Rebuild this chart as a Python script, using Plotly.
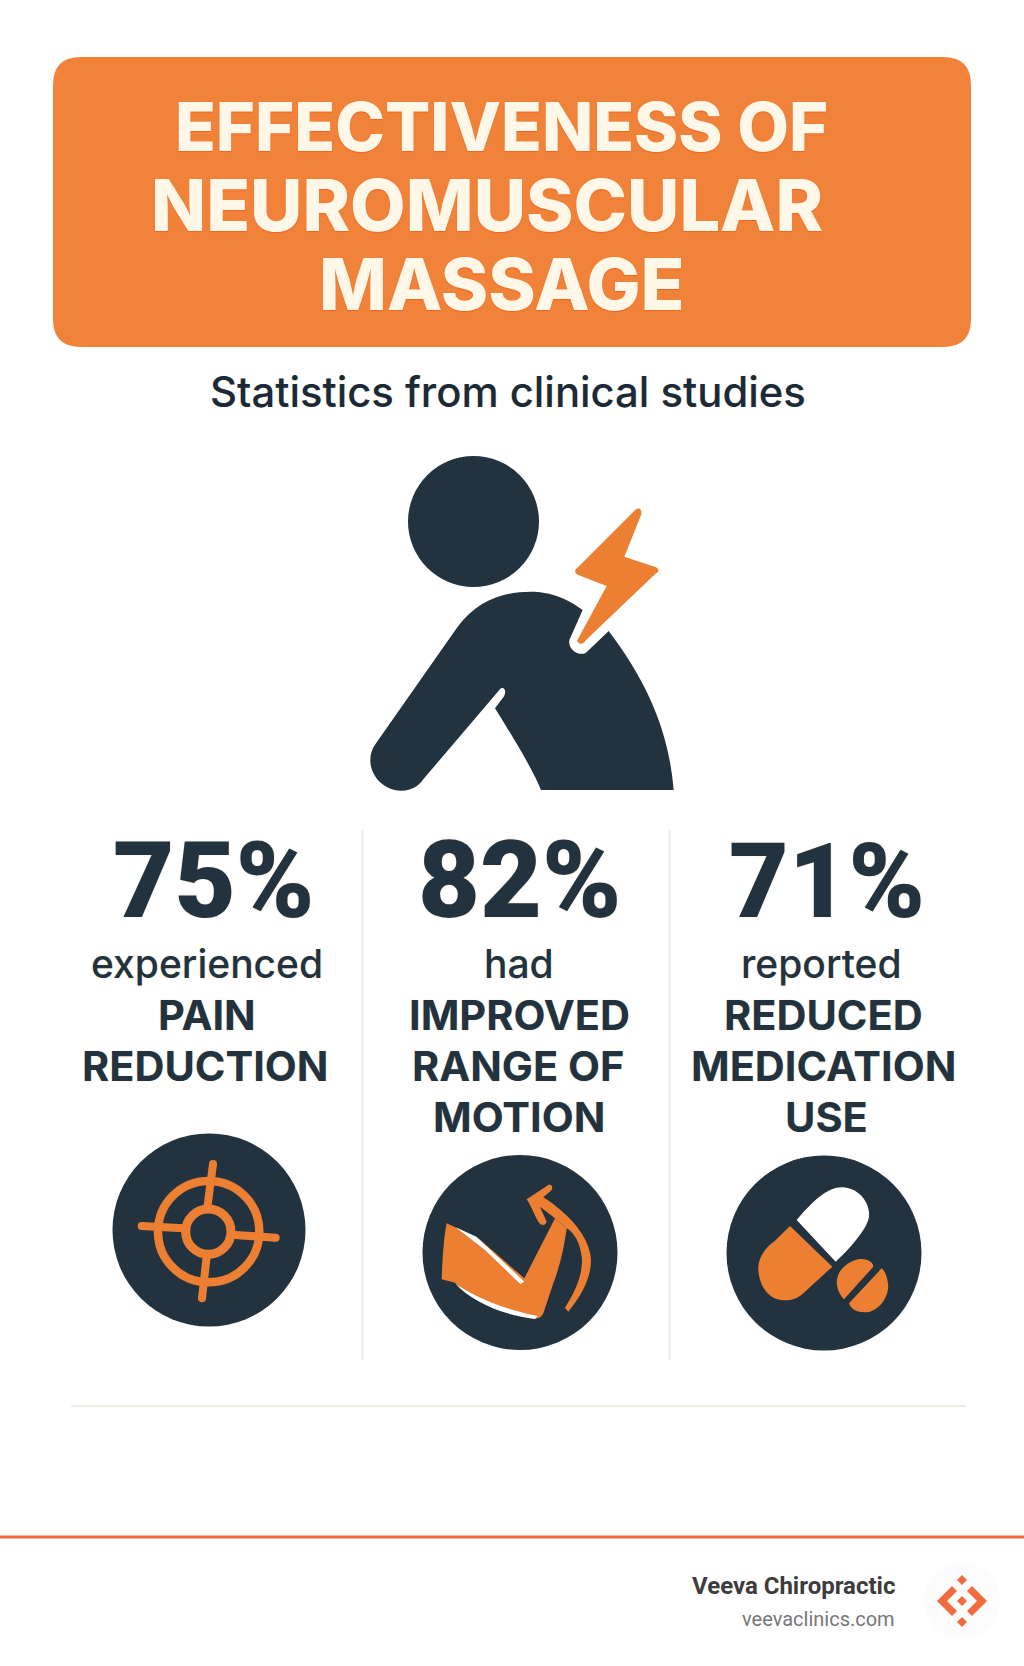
import plotly.graph_objects as go

# Textes et valeurs
TITLE_LINES = ["EFFECTIVENESS OF", "NEUROMUSCULAR", "MASSAGE"]
SUBTITLE = "Statistics from clinical studies"
PERCENTS = [75, 82, 71]
LEAD_WORDS = ["experienced", "had", "reported"]
LABEL_LINES = [
    ["PAIN", "REDUCTION"],
    ["IMPROVED", "RANGE OF", "MOTION"],
    ["REDUCED", "MEDICATION", "USE"],
]
BRAND = "Veeva Chiropractic"
SITE = "veevaclinics.com"

DARK = "#22333F"
ORANGE = "#F0823A"
ICON_ORANGE = "#EC7F32"
CREAM = "#FFF8E8"
RULE = "#F2EDE3"
FOOT_RED = "#F26B3F"
FONT = "Inter"

W, H = 1024, 1666

fig = go.Figure()
shapes = []


def place(path, ox, oy, k=1 / 3):
    """Convertit un chemin relevé sur un zoom 3x en pixels de la page."""
    out = []
    for tok in path.split():
        if tok.isalpha():
            out.append(tok)
        else:
            x, y = tok.split(",")
            out.append(f"{ox + float(x) * k:.2f},{oy + float(y) * k:.2f}")
    return " ".join(out)


def add_path(path, color):
    shapes.append(dict(type="path", path=path, fillcolor=color, line_width=0, layer="above"))


def add_circle(cx, cy, r, fill, line=None, width=0):
    shapes.append(dict(
        type="circle", x0=cx - r, x1=cx + r, y0=cy - r, y1=cy + r,
        fillcolor=fill, line=dict(color=line or fill, width=width), layer="above",
    ))


def add_line(x0, y0, x1, y1, color, width):
    shapes.append(dict(type="line", x0=x0, y0=y0, x1=x1, y1=y1,
                       line=dict(color=color, width=width), layer="above"))


def add_round_line(x0, y0, x1, y1, color, width):
    add_line(x0, y0, x1, y1, color, width)
    add_circle(x0, y0, width / 2, color)
    add_circle(x1, y1, width / 2, color)


def add_text(x, baseline, text, size, weight, color=DARK, anchor="center", shadow="none", family=FONT, descent=0.242):
    fig.add_annotation(
        x=x, y=baseline + descent * size, text=text, showarrow=False,
        xanchor=anchor, yanchor="bottom", borderpad=0,
        font=dict(family=family, size=size, weight=weight, color=color, shadow=shadow),
    )


# Bandeau du titre
x0, x1, y0, y1, r = 53, 971, 57, 347, 28
add_path(
    f"M {x0 + r},{y0} L {x1 - r},{y0} Q {x1},{y0} {x1},{y0 + r} L {x1},{y1 - r} Q {x1},{y1} {x1 - r},{y1} "
    f"L {x0 + r},{y1} Q {x0},{y1} {x0},{y1 - r} L {x0},{y0 + r} Q {x0},{y0} {x0 + r},{y0} Z",
    ORANGE,
)
title_shadow = "0 1px 1px #F0641E"
for line, xc, base, size in zip(TITLE_LINES, [501.5, 487, 502], [152, 232, 311], [67, 72, 72]):
    add_text(xc, base, line, size, 800, CREAM, shadow=title_shadow)
add_text(508, 408, SUBTITLE, 41.8, 500, "#1B2A38", shadow="0 0 2px #F5EBD2")

# Personne et éclair
add_circle(473.5, 521.5, 65.5, DARK)
ox, oy = 341, 430
add_path(place(
    "M 998,1080 C 985,920 930,770 803,603 L 735,668 C 715,680 680,660 685,630 L 725,540 "
    "C 660,490 600,485 570,485 C 490,485 410,510 350,590 L 105,940 C 60,1000 110,1082 180,1082 "
    "C 215,1082 235,1065 245,1050 L 475,780 C 485,765 500,780 488,800 L 462,835 "
    "C 540,960 580,1030 600,1080 Z", ox, oy), DARK)
add_path(place(
    "M 885,238 C 895,230 905,240 900,255 L 850,380 L 945,412 C 955,418 955,425 945,430 "
    "L 735,630 C 725,645 715,645 708,632 L 797,468 L 712,435 C 700,430 700,420 708,415 Z", ox, oy), ICON_ORANGE)

# Séparateurs
add_line(362.5, 830, 362.5, 1360, RULE, 2)
add_line(669.5, 830, 669.5, 1360, RULE, 2)
add_line(71, 1406, 966, 1406, RULE, 2)

# Colonnes de statistiques
PERCENT_X = [214, 520, 827]
PERCENT_SIZE = [106, 107, 103]
LEAD_X = [207, 519, 821]
LABEL_X = [[206.5, 205], [519, 518, 519], [823, 823.5, 826.5]]
LABEL_BASE = [1031, 1082, 1133]
halo = "0 0 2px #F0E4C8"
for i, pct in enumerate(PERCENTS):
    add_text(PERCENT_X[i], 918, f"{pct}%", PERCENT_SIZE[i], 900, shadow=halo, family="Roboto", descent=0.244)
    add_text(LEAD_X[i], 979, LEAD_WORDS[i], 39, 500, shadow=halo)
    for xc, base, line in zip(LABEL_X[i], LABEL_BASE, LABEL_LINES[i]):
        add_text(xc, base, line, 41.5, 700, shadow=halo)

# Icône cible
add_circle(209, 1230, 96.5, DARK)
ox, oy = 130, 1150
add_circle(ox + 236 / 3, oy + 245 / 3, 152 / 3, "rgba(0,0,0,0)", ICON_ORANGE, 8.5)
add_circle(ox + 235 / 3, oy + 245 / 3, 68 / 3, "rgba(0,0,0,0)", ICON_ORANGE, 9)
for a, b, c, d in [(249, 42, 233, 165), (230, 320, 216, 445), (35, 228, 160, 235), (315, 255, 437, 263)]:
    add_round_line(ox + a / 3, oy + b / 3, ox + c / 3, oy + d / 3, ICON_ORANGE, 8)

# Icône bras
add_circle(520, 1252.5, 97.5, DARK)
ox, oy = 435, 1170
add_path(place(
    "M 35,160 L 130,205 L 268,325 L 360,145 L 395,175 C 385,250 370,300 355,340 L 325,430 "
    "C 318,445 305,448 290,445 C 210,430 120,390 60,338 L 20,328 C 22,280 25,210 35,160 Z", ox, oy), ICON_ORANGE)
add_path(place("M 62,172 L 124,200 L 268,335 L 256,342 L 150,240 Z", ox, oy), "#FFFFFF")
add_path(place("M 60,340 C 100,370 190,415 308,438 L 300,447 C 200,435 110,395 60,340 Z", ox, oy), "#FFFFFF")
add_path(place(
    "M 275,88 L 340,45 C 352,42 355,55 348,62 L 325,82 C 400,130 465,200 468,270 "
    "C 468,340 420,400 400,425 L 390,413 C 430,350 445,300 440,260 C 435,220 420,190 395,175 "
    "L 360,145 L 315,110 L 335,155 C 330,168 318,168 310,155 C 300,140 290,110 275,88 Z", ox, oy), ICON_ORANGE)

# Icône gélule
add_circle(824, 1253, 97.5, DARK)
ox, oy = 745, 1170
add_path(place(
    "M 155,150 C 205,90 250,52 290,52 C 350,55 375,105 372,140 C 368,170 330,220 272,275 Z", ox, oy), "#FFFFFF")
add_path(place(
    "M 135,168 L 262,290 L 175,370 C 150,392 130,392 110,390 C 60,385 38,330 40,290 "
    "C 42,255 70,225 90,212 Z", ox, oy), ICON_ORANGE)
add_path(place(
    "M 385,290 L 297,388 C 280,370 270,340 278,320 C 285,290 330,262 355,268 "
    "C 375,270 385,280 385,290 Z", ox, oy), ICON_ORANGE)
add_path(place(
    "M 410,295 L 312,400 C 320,425 350,430 375,425 C 420,410 435,360 428,335 "
    "C 425,315 420,305 410,295 Z", ox, oy), ICON_ORANGE)

# Pied de page
add_line(0, 1537, W, 1537, FOOT_RED, 3)
add_text(896, 1595, BRAND, 24, 700, "#3C3C3C", anchor="right", family="Roboto", descent=0.234)
add_text(896, 1627, SITE, 20, 400, "#777777", anchor="right", family="Roboto", descent=0.234)
add_circle(962, 1601, 38, "#FCFCFC")
ox, oy = 962, 1601
for dy in (-21, 0, 21):
    add_path(f"M {ox},{oy + dy - 5} L {ox + 5},{oy + dy} L {ox},{oy + dy + 5} L {ox - 5},{oy + dy} Z", FOOT_RED)
for s in (-1, 1):
    add_path(
        f"M {ox + s * 25},{oy} L {ox + s * 10},{oy - 15} L {ox + s * 5},{oy - 10} L {ox + s * 15},{oy} "
        f"L {ox + s * 5},{oy + 10} L {ox + s * 10},{oy + 15} Z", FOOT_RED)

fig.update_layout(
    width=W, height=H,
    margin=dict(l=0, r=0, t=0, b=0),
    paper_bgcolor="#FFFFFF", plot_bgcolor="#FFFFFF",
    showlegend=False, shapes=shapes,
    xaxis=dict(range=[0, W], visible=False, fixedrange=True),
    yaxis=dict(range=[H, 0], visible=False, fixedrange=True),
)

fig.write_html("out.html", config={"displayModeBar": False},
               post_script="document.body.style.margin='0';document.body.style.overflow='hidden';")
